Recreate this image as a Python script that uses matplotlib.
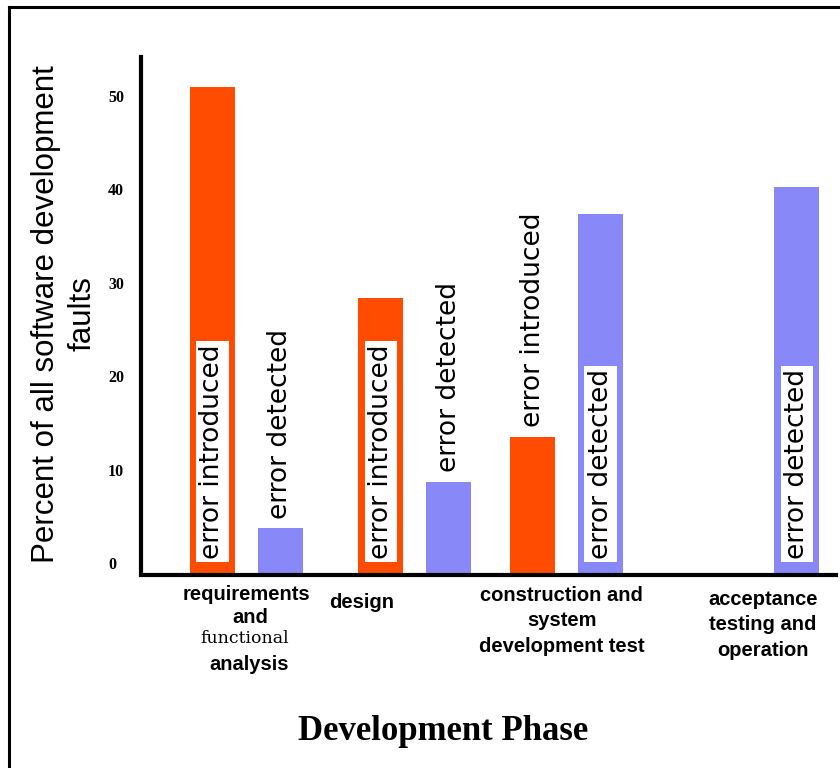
import numpy as np
import matplotlib
matplotlib.use("Agg")
from matplotlib import pyplot as plt
from matplotlib.lines import Line2D

# percent of all faults, per development phase
phase_labels = ['requirements\nand\nfunctional\nanalysis', 'design',
                'construction and\nsystem\ndevelopment test',
                'acceptance\ntesting and\noperation']
introduced = [52.0, 29.4, 14.6, np.nan]
detected = [4.8, 9.8, 38.4, 41.3]
y_ticks = [0, 10, 20, 30, 40, 50]

# layout
phase_x = np.array([0.0, 1.02, 1.94, 3.13])
label_dx = [0, -53, -5, 0]
label_dy = [0, -18, -11, -15]
off = 0.206
bw = 0.273
c_intro = '#FF4C00'
c_det = '#8888F8'

fig = plt.figure(figsize=(8.4, 7.68), dpi=100)
ax = fig.add_axes([141/840, 1 - 575/768, (836 - 141)/840, (575 - 57)/768])
ax.set_xlim(-0.639, 3.573)
ax.set_ylim(-0.21, 55.25)

ax.bar(phase_x - off, introduced, bw, color=c_intro, zorder=2)
ax.bar(phase_x + off, detected, bw, color=c_det, zorder=2)

# rotated labels: inside the bar (white box) when it fits, above it otherwise
def bar_label(x, v, txt):
    if np.isnan(v):
        return
    kw = dict(rotation=90, ha='center', va='bottom', fontsize=19,
              family='DejaVu Sans', color='black', zorder=3)
    if v > 25:
        ax.text(x, 1.5, txt, bbox=dict(boxstyle='square,pad=0.12',
                                        fc='white', ec='none'), **kw)
    else:
        ax.text(x, v + 1.0, txt, **kw)

for i in range(len(phase_x)):
    bar_label(phase_x[i] - off, introduced[i], 'error introduced')
    bar_label(phase_x[i] + off, detected[i], 'error detected')

# axes lines
for s in ['top', 'right']:
    ax.spines[s].set_visible(False)
ax.spines['left'].set_linewidth(3)
ax.spines['bottom'].set_linewidth(3)
ax.spines['left'].set_bounds(0.2, 55.25)
ax.set_xticks([])
ax.set_yticks([])

for v in y_ticks:
    ax.annotate(str(v), xy=(0, v), xycoords=('axes fraction', 'data'),
                xytext=(-33, 8), textcoords='offset pixels',
                ha='left', va='center', fontsize=11.5,
                family='Liberation Serif', weight='bold')

# phase names under the axis
sans_b = dict(family='Liberation Sans', weight='bold', fontsize=14.5,
              ha='center')
first = phase_labels[0].split('\n')
base = [-25, -48, -68, -95]
dxs = [0, 4, -2, 3]
for j, line in enumerate(first):
    if line == 'functional':
        kw = dict(ha='center', fontsize=12.5, family='DejaVu Serif')
    else:
        kw = sans_b
    ax.annotate(line, xy=(phase_x[0], 0), xycoords=('data', 'axes fraction'),
                xytext=(dxs[j], base[j]), textcoords='offset pixels',
                va='baseline', **kw)
for i in range(1, len(phase_x)):
    ax.annotate(phase_labels[i], xy=(phase_x[i], 0),
                xycoords=('data', 'axes fraction'),
                xytext=(label_dx[i], label_dy[i]), textcoords='offset pixels',
                va='top', multialignment='center', linespacing=1.42, **sans_b)

fig.text(64/840, 1 - 314/768, 'Percent of all software development\nfaults',
         rotation=90, ha='center', va='center', multialignment='center',
         fontsize=22.5, family='Liberation Sans', linespacing=1.3)

fig.text(443/840, 1 - 740/768, 'Development Phase', ha='center',
         va='baseline', fontsize=25, family='Liberation Serif', weight='bold')

# frame around the slide
fig.add_artist(Line2D([9/840, 9/840], [0, 1 - 7/768], color='black', lw=2.2,
                      transform=fig.transFigure))
fig.add_artist(Line2D([9/840, 1], [1 - 7/768, 1 - 7/768], color='black',
                      lw=2.2, transform=fig.transFigure))

fig.savefig('out.png', dpi=100)
